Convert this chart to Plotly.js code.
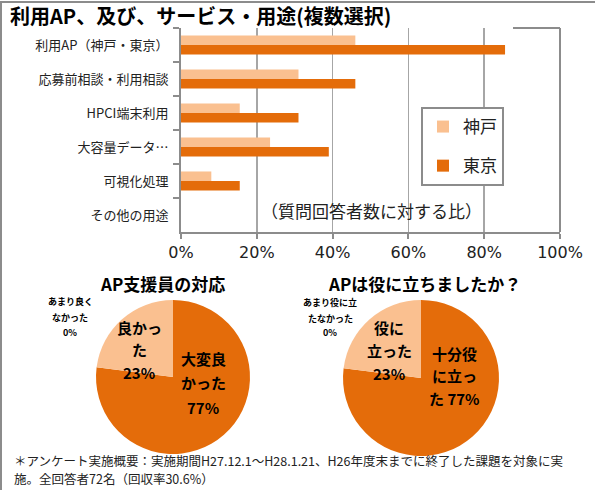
<!DOCTYPE html>
<html><head><meta charset="utf-8">
<script src="https://cdn.plot.ly/plotly-3.0.1.min.js"></script>
<style>html,body{margin:0;padding:0;background:#fff}</style>
</head><body><div id="chart" style="width:595px;height:490px"></div>
<script>
// ---- data ----
const categories = ['利用AP（神戸・東京）','応募前相談・利用相談','HPCI端末利用','大容量データ…','可視化処理','その他の用途'];
const seriesNames = ['神戸','東京'];
const kobeValues = [0.46, 0.31, 0.155, 0.235, 0.08, 0];
const tokyoValues = [0.855, 0.46, 0.31, 0.39, 0.155, 0];
const xTickValues = [0, 0.2, 0.4, 0.6, 0.8, 1.0];
const xTickLabels = ['0%','20%','40%','60%','80%','100%'];

const pie1Title = 'AP支援員の対応';
const pie1Labels = ['大変良かった','良かった','あまり良くなかった'];
const pie1Values = [77, 23, 0];
const pie1LabelLines = [['大変良','かった'],['良かっ','た'],['あまり良く','なかった']];

const pie2Title = 'APは役に立ちましたか？';
const pie2Labels = ['十分役に立った','役に立った','あまり役に立たなかった'];
const pie2Values = [77, 23, 0];
const pie2LabelLines = [['十分役','に立っ','た'],['役に','立った'],['あまり役に立','たなかった']];
const pie2ValueInline = [true, false, false];

const chartTitle = '利用AP、及び、サービス・用途(複数選択)';
const axisNote = '（質問回答者数に対する比）';
const footnoteLines = ['＊アンケート実施概要：実施期間H27.12.1～H28.1.21、H26年度末までに終了した課題を対象に実','施。全回答者72名（回収率30.6%）'];

// ---- styling ----
const W = 595, H = 490;
const LIGHT = '#FAC090', DARK = '#E46C0A';
const JP = '"Noto Sans CJK JP", "Noto Sans", sans-serif';
const px = x => x / W;
const py = y => (H - y) / H;

const traces = [
  {type:'bar', orientation:'h', name:seriesNames[0], y:categories, x:kobeValues,
   marker:{color:LIGHT}, legendgroup:'a', hoverinfo:'none'},
  {type:'bar', orientation:'h', name:seriesNames[1], y:categories, x:tokyoValues,
   marker:{color:DARK}, legendgroup:'b', hoverinfo:'none'},
  {type:'pie', values:pie1Values, labels:pie1Labels, sort:false, direction:'clockwise', rotation:0,
   marker:{colors:[DARK, LIGHT, '#BFBFBF'], line:{width:0}}, textinfo:'none', showlegend:false,
   hoverinfo:'none',
   domain:{x:[px(96), px(250)], y:[py(454), py(300)]}},
  {type:'pie', values:pie2Values, labels:pie2Labels, sort:false, direction:'clockwise', rotation:0,
   marker:{colors:[DARK, LIGHT, '#BFBFBF'], line:{width:0}}, textinfo:'none', showlegend:false,
   hoverinfo:'none',
   domain:{x:[px(343), px(499)], y:[py(456), py(300)]}}
];

const annotations = [];
function addLines(lines, x, ys, size) {
  lines.forEach((t, i) => annotations.push({
    xref:'paper', yref:'paper', x:px(x), y:py(ys[i]), xanchor:'center', yanchor:'middle',
    text:'<b>' + t + '</b>', showarrow:false, font:{family:JP, size:size, color:'#000'}
  }));
}
// pie 1 labels
addLines([...pie1LabelLines[0], pie1Values[0] + '%'], 203, [358, 382, 407], 15);
addLines([...pie1LabelLines[1], pie1Values[1] + '%'], 139, [327, 349, 372], 15);
addLines([...pie1LabelLines[2], pie1Values[2] + '%'], 70, [301, 317, 332], 9);
// pie 2 labels
function withValue(lines, v, inline) {
  const l = lines.slice();
  if (inline) l[l.length - 1] = l[l.length - 1] + ' ' + v + '%'; else l.push(v + '%');
  return l;
}
addLines(withValue(pie2LabelLines[0], pie2Values[0], pie2ValueInline[0]), 455, [353, 375, 398], 15);
addLines(withValue(pie2LabelLines[1], pie2Values[1], pie2ValueInline[1]), 389, [327, 350, 373], 15);
addLines(withValue(pie2LabelLines[2], pie2Values[2], pie2ValueInline[2]), 330, [302, 318, 332], 9);

// titles
annotations.push({xref:'paper', yref:'paper', x:px(8), y:py(16), xanchor:'left', yanchor:'middle',
  text:'<b>' + chartTitle + '</b>', showarrow:false, font:{family:JP, size:20, color:'#000'}});
annotations.push({xref:'paper', yref:'paper', x:px(162), y:py(283), xanchor:'center', yanchor:'middle',
  text:'<b>' + pie1Title + '</b>', showarrow:false, font:{family:JP, size:17, color:'#000'}});
annotations.push({xref:'paper', yref:'paper', x:px(424), y:py(283), xanchor:'center', yanchor:'middle',
  text:'<b>' + pie2Title + '</b>', showarrow:false, font:{family:JP, size:17, color:'#000'}});
annotations.push({xref:'paper', yref:'paper', x:px(371), y:py(210), xanchor:'center', yanchor:'middle',
  text:axisNote, showarrow:false, font:{family:JP, size:17, color:'#222'}});
footnoteLines.forEach((t, i) => annotations.push({xref:'paper', yref:'paper', x:px(13), y:py(460 + i*18.5),
  xanchor:'left', yanchor:'middle', borderpad:0, text:t, showarrow:false,
  font:{family:JP, size:12.5, color:'#222'}}));

const shapes = [
  // outer frame (top / left)
  {type:'line', xref:'paper', yref:'paper', x0:0, x1:1, y0:py(2), y1:py(2), line:{color:'#8c8c8c', width:2}},
  {type:'line', xref:'paper', yref:'paper', x0:px(1), x1:px(1), y0:0, y1:py(2), line:{color:'#8c8c8c', width:2}},
  // plot area right border and top-right border
  {type:'line', xref:'paper', yref:'paper', x0:px(560), x1:px(560), y0:py(232), y1:py(28), line:{color:'#8c8c8c', width:2}},
  {type:'line', xref:'paper', yref:'paper', x0:px(513), x1:px(560), y0:py(28), y1:py(28), line:{color:'#8c8c8c', width:2}}
];

const layout = {
  width:W, height:H, margin:{l:0, r:0, t:0, b:0},
  paper_bgcolor:'#fff', plot_bgcolor:'#fff',
  barmode:'group', bargap:0.44, bargroupgap:0,
  showlegend:true,
  legend:{x:px(421), y:py(107), xanchor:'left', yanchor:'top', bgcolor:'#fff',
    bordercolor:'#8c8c8c', borderwidth:2, font:{family:JP, size:17, color:'#222'},
    traceorder:'grouped', tracegroupgap:14, itemwidth:30},
  xaxis:{domain:[px(181), px(560)], range:[0, 1], tickvals:xTickValues, ticktext:xTickLabels,
    showgrid:true, gridcolor:'#a6a6a6', gridwidth:1.5, zeroline:false,
    showline:true, linecolor:'#8c8c8c', linewidth:2, ticks:'outside', ticklen:5, tickcolor:'#8c8c8c', tickwidth:2,
    tickfont:{family:'"DejaVu Sans", sans-serif', size:16, color:'#222'}, fixedrange:true},
  yaxis:{domain:[py(232), py(28)], type:'category', autorange:'reversed',
    showline:true, linecolor:'#8c8c8c', linewidth:2, ticks:'outside', ticklen:6, tickcolor:'#8c8c8c', tickwidth:2,
    tickson:'boundaries', showgrid:false, zeroline:false, ticklabelstandoff:8,
    tickfont:{family:JP, size:13, color:'#222'}, fixedrange:true},
  annotations:annotations, shapes:shapes
};

Plotly.newPlot('chart', traces, layout, {staticPlot:true});
</script></body></html>
